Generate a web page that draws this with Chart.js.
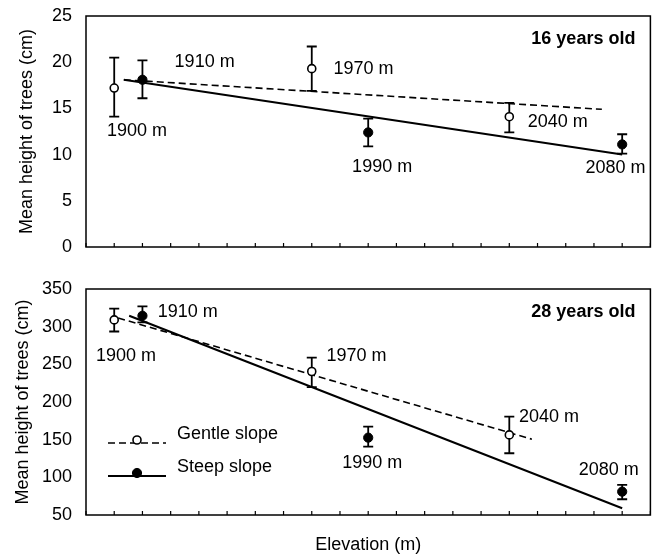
<!DOCTYPE html>
<html>
<head>
<meta charset="utf-8">
<script src="https://cdn.jsdelivr.net/npm/chart.js@4/dist/chart.umd.min.js"></script>
<style>
  html, body { margin: 0; padding: 0; background: #fff; }
  #wrap { position: relative; width: 656px; height: 556px; }
  #top-chart { position: absolute; left: 0; top: 0; }
  #bottom-chart { position: absolute; left: 0; top: 270px; }
</style>
</head>
<body>
<div id="wrap">
  <canvas id="top-chart" width="656" height="270"></canvas>
  <canvas id="bottom-chart" width="656" height="286"></canvas>
</div>
<script>
// Sites (m)
const gentleElev = [1900, 1970, 2040];
const steepElev = [1910, 1990, 2080];
const elevTicks = [1890, 1900, 1910, 1920, 1930, 1940, 1950, 1960, 1970, 1980, 1990,
                   2000, 2010, 2020, 2030, 2040, 2050, 2060, 2070, 2080, 2090];

// 16 years old - mean height (cm) with error bar ends
const gentle16 = [17.2, 19.3, 14.1];
const gentle16Low = [14.1, 16.9, 12.4];
const gentle16High = [20.5, 21.7, 15.6];
const steep16 = [18.1, 12.4, 11.1];
const steep16Low = [16.1, 10.9, 10.1];
const steep16High = [20.2, 13.9, 12.2];
// fitted lines (start, end)
const gentleFit16 = [{ x: 1903.4, y: 18.1 }, { x: 2072.8, y: 14.9 }];
const steepFit16 = [{ x: 1903.4, y: 18.1 }, { x: 2080, y: 10.0 }];
const heightTicks16 = [0, 5, 10, 15, 20, 25];

// 28 years old
const gentle28 = [309, 240.5, 156.3];
const gentle28Low = [293.6, 219.7, 132];
const gentle28High = [324, 259, 180.7];
const steep28 = [314.5, 152.7, 81];
const steep28Low = [305.6, 140.8, 70.9];
const steep28High = [327, 167.4, 89.9];
const gentleFit28 = [{ x: 1901.4, y: 311.5 }, { x: 2048, y: 150.6 }];
const steepFit28 = [{ x: 1905.3, y: 314.5 }, { x: 2080, y: 58.9 }];
const heightTicks28 = [50, 100, 150, 200, 250, 300, 350];

// site labels, anchored in data units (left edge, middle)
const siteNames = ['1900 m', '1910 m', '1970 m', '1990 m', '2040 m', '2080 m'];
const siteLabelAt16 = [[1897.4, 12.55], [1921.4, 20.0], [1977.7, 19.3], [1984.3, 8.66], [2046.5, 13.5], [2067, 8.55]];
const siteLabelAt28 = [[1893.5, 261.3], [1915.4, 319.8], [1975.2, 261.3], [1980.8, 119.1], [2043.4, 180.3], [2064.6, 109.8]];

const FONT = 'Arial, "Liberation Sans", Helvetica, sans-serif';
Chart.defaults.font.family = FONT;
Chart.defaults.font.size = 18;
Chart.defaults.color = '#000';

// Box round the plot and inward ticks on the elevation axis
const frame = {
    id: 'frame',
    beforeDatasetsDraw(chart) {
        const { ctx, chartArea: a, scales: { x } } = chart;
        ctx.save();
        ctx.strokeStyle = '#000';
        ctx.lineWidth = 1.5;
        ctx.strokeRect(a.left, a.top, a.width, a.height);
        ctx.lineWidth = 1.2;
        x.ticks.forEach(t => {
            const px = x.getPixelForValue(t.value);
            ctx.beginPath();
            ctx.moveTo(px, a.bottom);
            ctx.lineTo(px, a.bottom - 4);
            ctx.stroke();
        });
        ctx.restore();
    }
};

const errorBars = {
    id: 'errorBars',
    beforeDatasetsDraw(chart) {
        const { ctx, scales: { x, y } } = chart;
        ctx.save();
        ctx.strokeStyle = '#000';
        ctx.lineWidth = 1.8;
        chart.data.datasets.forEach(ds => {
            if (!ds.errLow) return;
            ds.data.forEach((p, i) => {
                const px = x.getPixelForValue(p.x);
                const lo = y.getPixelForValue(ds.errLow[i]);
                const hi = y.getPixelForValue(ds.errHigh[i]);
                ctx.beginPath();
                ctx.moveTo(px, lo); ctx.lineTo(px, hi);
                ctx.moveTo(px - 5, lo); ctx.lineTo(px + 5, lo);
                ctx.moveTo(px - 5, hi); ctx.lineTo(px + 5, hi);
                ctx.stroke();
            });
        });
        ctx.restore();
    }
};

function siteLabels(at, ageText) {
    return {
        id: 'siteLabels',
        afterDatasetsDraw(chart) {
            const { ctx, chartArea: a, scales: { x, y } } = chart;
            ctx.save();
            ctx.fillStyle = '#000';
            ctx.textBaseline = 'middle';
            ctx.textAlign = 'left';
            ctx.font = '18px ' + FONT;
            siteNames.forEach((name, i) => {
                ctx.fillText(name, x.getPixelForValue(at[i][0]), y.getPixelForValue(at[i][1]));
            });
            ctx.textAlign = 'right';
            ctx.font = 'bold 18px ' + FONT;
            ctx.fillText(ageText, a.right - 15, a.top + 23);
            ctx.restore();
        }
    };
}

const slopeLegend = {
    id: 'slopeLegend',
    afterDatasetsDraw(chart) {
        const { ctx, chartArea: a } = chart;
        const rows = chart.data.datasets.filter(ds => ds.errLow);
        const x0 = a.left + 22, x1 = a.left + 80;
        ctx.save();
        rows.forEach((ds, i) => {
            const ly = a.top + 154 + i * 33;
            ctx.strokeStyle = '#000';
            ctx.lineWidth = ds.legendDash.length ? 1.6 : 2;
            ctx.setLineDash(ds.legendDash);
            ctx.beginPath();
            ctx.moveTo(x0, ly); ctx.lineTo(x1, ly);
            ctx.stroke();
            ctx.setLineDash([]);
            ctx.beginPath();
            ctx.arc((x0 + x1) / 2, ly - 3, ds.pointRadius, 0, Math.PI * 2);
            ctx.fillStyle = ds.pointBackgroundColor;
            ctx.fill();
            ctx.lineWidth = ds.pointBorderWidth;
            ctx.stroke();
            ctx.fillStyle = '#000';
            ctx.font = '18px ' + FONT;
            ctx.textBaseline = 'middle';
            ctx.textAlign = 'left';
            ctx.fillText(ds.label, x1 + 11, ly - 9);
        });
        ctx.restore();
    }
};

function panel(canvasId, cfg) {
    const plugins = [frame, errorBars, siteLabels(cfg.labelAt, cfg.ageText)];
    if (cfg.legend) plugins.push(slopeLegend);
    return new Chart(document.getElementById(canvasId), {
        type: 'scatter',
        data: {
            datasets: [
                {
                    label: 'Gentle slope',
                    data: gentleElev.map((e, i) => ({ x: e, y: cfg.gentle[i] })),
                    errLow: cfg.gentleLow, errHigh: cfg.gentleHigh, legendDash: [7, 4],
                    pointRadius: 4, pointBackgroundColor: '#fff', pointBorderColor: '#000',
                    pointBorderWidth: 1.6, order: 0
                },
                {
                    label: 'Steep slope',
                    data: steepElev.map((e, i) => ({ x: e, y: cfg.steep[i] })),
                    errLow: cfg.steepLow, errHigh: cfg.steepHigh, legendDash: [],
                    pointRadius: 4.6, pointBackgroundColor: '#000', pointBorderColor: '#000',
                    pointBorderWidth: 1, order: 0
                },
                {
                    type: 'line', data: cfg.gentleFit, borderColor: '#000', borderWidth: 1.6,
                    borderDash: [7, 4], pointRadius: 0, fill: false, tension: 0, order: 1
                },
                {
                    type: 'line', data: cfg.steepFit, borderColor: '#000', borderWidth: 2,
                    pointRadius: 0, fill: false, tension: 0, order: 1
                }
            ]
        },
        options: {
            responsive: false,
            animation: false,
            events: [],
            layout: { padding: { top: cfg.padTop, right: 5.5, left: 0, bottom: 0 } },
            plugins: { legend: { display: false }, tooltip: { enabled: false } },
            scales: {
                x: {
                    type: 'linear', min: 1890, max: 2090,
                    afterBuildTicks: s => { s.ticks = elevTicks.map(v => ({ value: v })); },
                    afterFit: s => { s.height = cfg.xHeight; s.paddingLeft = 0; s.paddingRight = 0; },
                    ticks: { display: false },
                    grid: { display: false, drawTicks: false },
                    border: { display: false },
                    title: {
                        display: !!cfg.xTitle, text: 'Elevation (m)', color: '#000',
                        font: { size: 18 }, padding: { top: 0, bottom: 0 }
                    }
                },
                y: {
                    min: cfg.ticks[0], max: cfg.ticks[cfg.ticks.length - 1],
                    afterBuildTicks: s => { s.ticks = cfg.ticks.map(v => ({ value: v })); },
                    // fixed axis width; labels may overhang the plot edges
                    afterFit: s => { s.width = 86; s.paddingTop = 0; s.paddingBottom = 0; },
                    ticks: { color: '#000', font: { size: 18 }, padding: 14, autoSkip: false },
                    grid: { display: false, drawTicks: false },
                    border: { display: false },
                    title: {
                        display: true, text: 'Mean height of trees (cm)', color: '#000',
                        font: { size: 18 }, padding: { top: cfg.titlePad, bottom: 0 }
                    }
                }
            }
        },
        plugins: plugins
    });
}

panel('top-chart', {
    gentle: gentle16, gentleLow: gentle16Low, gentleHigh: gentle16High,
    steep: steep16, steepLow: steep16Low, steepHigh: steep16High,
    gentleFit: gentleFit16, steepFit: steepFit16, ticks: heightTicks16,
    labelAt: siteLabelAt16, ageText: '16 years old',
    padTop: 16, xHeight: 23, titlePad: 16, xTitle: false, legend: false
});

panel('bottom-chart', {
    gentle: gentle28, gentleLow: gentle28Low, gentleHigh: gentle28High,
    steep: steep28, steepLow: steep28Low, steepHigh: steep28High,
    gentleFit: gentleFit28, steepFit: steepFit28, ticks: heightTicks28,
    labelAt: siteLabelAt28, ageText: '28 years old',
    padTop: 19, xHeight: 41, titlePad: 12, xTitle: true, legend: true
});
</script>
</body>
</html>
